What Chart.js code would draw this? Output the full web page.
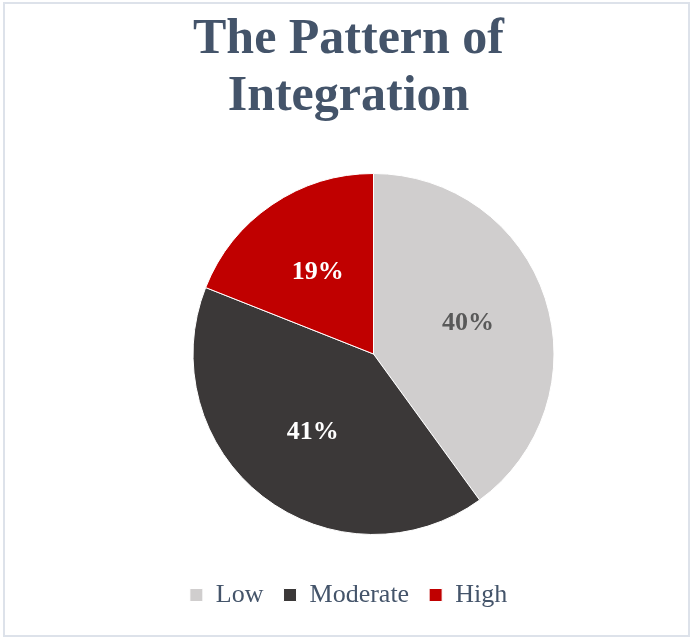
<!DOCTYPE html>
<html>
<head>
<meta charset="utf-8">
<script src="https://cdn.jsdelivr.net/npm/chart.js@4/dist/chart.umd.min.js"></script>
<style>
html,body{margin:0;padding:0;background:#fff;}
#wrap{position:absolute;left:0;top:0;width:693px;height:640px;}
#frame{position:absolute;left:3px;top:2px;width:683px;height:631px;border:2px solid #DDE2EA;pointer-events:none;}
</style>
</head>
<body>
<div id="wrap"><canvas id="c" width="693" height="640"></canvas></div>
<div id="frame"></div>
<script>
const categories = ['Low', 'Moderate', 'High'];
const values = [40, 41, 19];
const sliceColors = ['#D0CECE', '#3B3838', '#C00000'];
const labelColors = ['#595959', '#FFFFFF', '#FFFFFF'];
const titleLines = ['The Pattern of', 'Integration'];

function makeSpacer(position, size, weight) {
  return {
    position: position, weight: weight, fullSize: false,
    options: { stackWeight: 1 },
    left: 0, top: 0, right: 0, bottom: 0, width: 0, height: 0,
    isHorizontal() { return position === 'top' || position === 'bottom'; },
    update(maxWidth, maxHeight) {
      if (this.isHorizontal()) { this.width = maxWidth; this.height = size; }
      else { this.width = size; this.height = maxHeight; }
    },
    getPadding() { return { left: 0, top: 0, right: 0, bottom: 0 }; },
    draw() {}
  };
}

const spacers = {
  id: 'spacers',
  beforeInit(chart) {
    Chart.layouts.addBox(chart, makeSpacer('left', 50, 0));
    Chart.layouts.addBox(chart, makeSpacer('bottom', 27, 0));
  }
};

const pieLabels = {
  id: 'pieLabels',
  afterDatasetsDraw(chart) {
    const ctx = chart.ctx;
    const meta = chart.getDatasetMeta(0);
    const total = values.reduce((a, b) => a + b, 0);
    ctx.save();
    ctx.font = 'bold 26px "Liberation Serif", "Times New Roman", serif';
    ctx.textAlign = 'center';
    ctx.textBaseline = 'middle';
    meta.data.forEach((arc, i) => {
      const p = arc.getProps(['x', 'y', 'startAngle', 'endAngle', 'outerRadius'], true);
      const mid = (p.startAngle + p.endAngle) / 2;
      const r = p.outerRadius * 0.55;
      const x = p.x + Math.cos(mid) * r;
      const y = p.y + Math.sin(mid) * r;
      ctx.fillStyle = labelColors[i];
      ctx.fillText(Math.round(values[i] / total * 100) + '%', x, y);
    });
    ctx.restore();
  }
};

new Chart(document.getElementById('c'), {
  type: 'pie',
  data: {
    labels: categories,
    datasets: [{
      data: values,
      backgroundColor: sliceColors,
      borderColor: '#FFFFFF',
      borderWidth: 1
    }]
  },
  options: {
    responsive: false,
    animation: false,
    layout: { padding: { left: 4, right: 0, top: 0, bottom: 22 } },
    plugins: {
      title: {
        display: true,
        text: titleLines,
        color: '#44546A',
        font: { family: '"Liberation Serif", "Times New Roman", serif', size: 50, weight: 'bold', lineHeight: 1.15 },
        padding: { top: 11, bottom: 47 }
      },
      legend: {
        position: 'bottom',
        labels: {
          color: '#44546A',
          font: { family: '"Liberation Serif", "Times New Roman", serif', size: 26 },
          boxWidth: 13,
          boxHeight: 13,
          padding: 20
        }
      },
      tooltip: { enabled: false }
    }
  },
  plugins: [spacers, pieLabels]
});
</script>
</body>
</html>
